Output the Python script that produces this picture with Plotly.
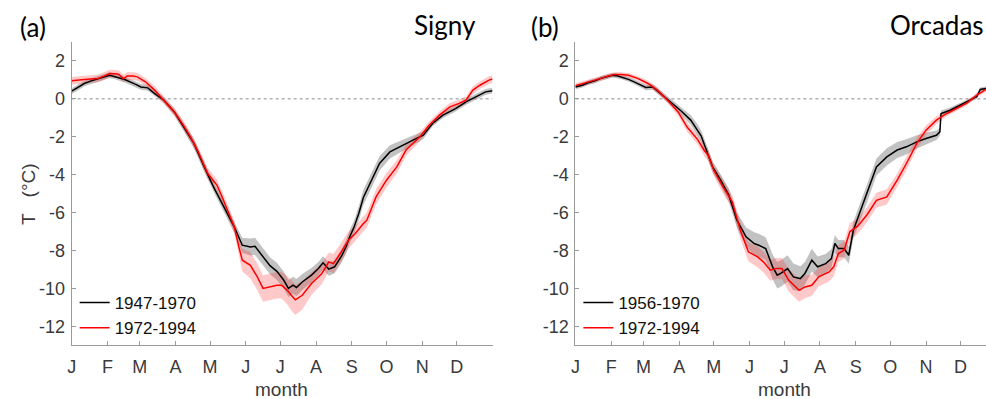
import plotly.graph_objects as go

# ---------------- data ----------------
month_ticks_days = [0, 31, 59, 90, 120, 151, 181, 212, 243, 273, 304, 334]
month_labels = ["J", "F", "M", "A", "M", "J", "J", "A", "S", "O", "N", "D"]
y_ticks = [2, 0, -2, -4, -6, -8, -10, -12]
y_tick_labels = ["2", "0", "-2", "-4", "-6", "-8", "-10", "-12"]

# Signy 1947-1970 (black)
signy_early_day = [0, 6, 11, 17, 23, 28, 33, 37, 40, 46, 51, 56, 60, 66, 72, 80, 89, 97, 106, 115,
                   123, 132, 141, 148, 155, 159, 165, 172, 178, 184, 188, 192, 195, 200, 208, 214,
                   218, 223, 228, 234, 238, 241, 245, 249, 253, 259, 267, 276, 287, 296, 305, 313,
                   322, 333, 342, 351, 359, 365]
signy_early_T = [0.41, 0.62, 0.81, 0.95, 1.04, 1.15, 1.25, 1.20, 1.13, 1.02, 0.90, 0.75, 0.63, 0.58,
                 0.28, -0.07, -0.69, -1.45, -2.35, -3.59, -4.64, -5.70, -6.75, -7.72, -7.81, -7.78,
                 -8.25, -8.80, -9.10, -9.57, -10.00, -9.83, -9.95, -9.66, -9.30, -8.95, -8.65, -8.98,
                 -8.86, -8.30, -7.80, -7.30, -6.75, -6.05, -5.20, -4.46, -3.41, -2.80, -2.44, -2.18,
                 -1.92, -1.30, -0.86, -0.51, -0.16, 0.11, 0.37, 0.43]
signy_early_sd = [0.15, 0.15, 0.15, 0.15, 0.15, 0.15, 0.15, 0.15, 0.15, 0.15, 0.15, 0.15, 0.15, 0.15,
                  0.15, 0.15, 0.18, 0.22, 0.25, 0.25, 0.25, 0.28, 0.3, 0.4, 0.45, 0.45, 0.45, 0.45,
                  0.45, 0.45, 0.45, 0.45, 0.45, 0.42, 0.38, 0.35, 0.35, 0.35, 0.35, 0.35, 0.35, 0.35,
                  0.35, 0.38, 0.4, 0.4, 0.38, 0.35, 0.3, 0.25, 0.2, 0.15, 0.15, 0.15, 0.15, 0.15,
                  0.15, 0.15]

# Signy 1972-1994 (red)
signy_late_day = [0, 6, 11, 17, 23, 28, 33, 38, 41, 44, 45, 48, 53, 57, 64, 72, 80, 89, 97, 103, 109,
                  118, 124, 126, 130, 135, 141, 145, 148, 155, 161, 166, 172, 178, 182, 187, 191, 194,
                  200, 208, 217, 223, 227, 233, 240, 246, 253, 256, 264, 273, 282, 290, 302, 310, 319,
                  328, 336, 342, 348, 354, 362, 365]
signy_late_T = [0.95, 1.00, 1.02, 1.05, 1.08, 1.20, 1.34, 1.32, 1.29, 1.12, 1.06, 1.20, 1.20, 1.16,
                0.90, 0.46, -0.07, -0.69, -1.40, -2.00, -2.70, -3.94, -4.40, -4.55, -5.10, -5.87,
                -6.75, -7.80, -8.51, -8.78, -9.39, -10.00, -9.92, -9.83, -9.83, -10.10, -10.40,
                -10.60, -10.36, -9.74, -9.21, -8.60, -8.69, -8.16, -7.46, -7.10, -6.58, -6.40,
                -5.17, -4.29, -3.59, -2.70, -2.00, -1.39, -0.86, -0.42, -0.24, -0.07, 0.46, 0.72,
                0.99, 1.05]
signy_late_sd = [0.2, 0.2, 0.2, 0.2, 0.2, 0.2, 0.2, 0.2, 0.2, 0.2, 0.2, 0.2, 0.2, 0.2, 0.2, 0.2, 0.2,
                 0.22, 0.25, 0.25, 0.25, 0.3, 0.3, 0.3, 0.3, 0.3, 0.35, 0.5, 0.6, 0.7, 0.7, 0.7, 0.7,
                 0.7, 0.7, 0.75, 0.8, 0.8, 0.75, 0.6, 0.55, 0.5, 0.5, 0.5, 0.45, 0.4, 0.4, 0.4, 0.4,
                 0.38, 0.35, 0.3, 0.25, 0.2, 0.2, 0.2, 0.2, 0.2, 0.2, 0.2, 0.2, 0.2]

# Orcadas 1956-1970 (black)
orc_early_day = [0, 6, 11, 17, 22, 27, 32, 36, 40, 46, 51, 56, 61, 67, 74, 83, 91, 100, 106, 109,
                 113, 119, 126, 133, 140, 148, 155, 159, 165, 171, 175, 178, 184, 189, 195, 199, 205,
                 210, 217, 222, 225, 228, 233, 237, 241, 247, 254, 261, 270, 279, 287, 296, 304, 313,
                 316, 317, 325, 333, 342, 348, 351, 356]
orc_early_T = [0.63, 0.72, 0.85, 0.95, 1.08, 1.15, 1.25, 1.22, 1.16, 1.03, 0.90, 0.75, 0.60, 0.63,
               0.28, -0.16, -0.60, -1.12, -1.65, -1.95, -2.60, -3.59, -4.29, -5.08, -6.40, -7.28,
               -7.63, -7.72, -7.90, -8.86, -9.30, -9.21, -8.95, -9.39, -9.48, -9.21, -8.51, -8.86,
               -8.69, -8.42, -7.63, -7.90, -7.90, -8.25, -6.93, -5.95, -4.82, -3.59, -3.06, -2.70,
               -2.53, -2.27, -2.09, -1.92, -1.74, -0.77, -0.60, -0.33, -0.07, 0.11, 0.50, 0.55]
orc_early_sd = [0.12, 0.12, 0.12, 0.12, 0.12, 0.12, 0.12, 0.12, 0.12, 0.12, 0.12, 0.12, 0.15, 0.15,
                0.15, 0.18, 0.2, 0.25, 0.3, 0.3, 0.3, 0.3, 0.3, 0.35, 0.4, 0.5, 0.6, 0.6, 0.6, 0.65,
                0.7, 0.7, 0.7, 0.7, 0.65, 0.6, 0.6, 0.55, 0.5, 0.5, 0.45, 0.45, 0.45, 0.45, 0.45,
                0.45, 0.45, 0.45, 0.45, 0.42, 0.4, 0.35, 0.3, 0.25, 0.2, 0.15, 0.15, 0.12, 0.12,
                0.1, 0.1, 0.1]

# Orcadas 1972-1994 (red)
orc_late_day = [0, 11, 22, 28, 34, 40, 46, 54, 63, 71, 80, 89, 97, 106, 112, 115, 120, 128, 136, 143,
                150, 158, 163, 169, 174, 179, 185, 194, 199, 205, 211, 220, 224, 228, 233, 238, 245,
                253, 261, 270, 279, 287, 296, 304, 313, 322, 330, 339, 348, 355, 356]
orc_late_T = [0.70, 0.87, 1.08, 1.20, 1.29, 1.28, 1.25, 1.08, 0.81, 0.46, -0.07, -0.69, -1.50, -2.15,
              -2.75, -2.95, -3.76, -4.64, -5.43, -6.93, -8.07, -8.34, -8.60, -9.04, -8.95, -8.95,
              -9.57, -10.10, -9.92, -9.83, -9.39, -9.13, -8.86, -8.16, -7.98, -7.00, -6.70, -6.10,
              -5.35, -5.17, -4.29, -3.41, -2.35, -1.65, -1.12, -0.77, -0.51, -0.24, 0.20, 0.46, 0.50]
orc_late_sd = [0.12, 0.12, 0.12, 0.12, 0.12, 0.12, 0.12, 0.12, 0.15, 0.15, 0.15, 0.2, 0.25, 0.25,
               0.3, 0.3, 0.3, 0.35, 0.35, 0.45, 0.5, 0.55, 0.55, 0.55, 0.55, 0.55, 0.6, 0.6, 0.6,
               0.55, 0.5, 0.5, 0.5, 0.45, 0.45, 0.45, 0.4, 0.4, 0.4, 0.4, 0.35, 0.35, 0.3, 0.25,
               0.2, 0.15, 0.15, 0.12, 0.12, 0.12, 0.12]

panels = [
    dict(name="Signy", tag="(a)",
         series=[("1947-1970", signy_early_day, signy_early_T, signy_early_sd),
                 ("1972-1994", signy_late_day, signy_late_T, signy_late_sd)],
         xmax=365),
    dict(name="Orcadas", tag="(b)",
         series=[("1956-1970", orc_early_day, orc_early_T, orc_early_sd),
                 ("1972-1994", orc_late_day, orc_late_T, orc_late_sd)],
         xmax=356),
]

# ---------------- layout constants ----------------
W, H = 986, 399
line_colors = ["#000000", "#ff0000"]
band_colors = ["rgba(110,110,110,0.42)", "rgba(255,40,40,0.25)"]
x_domains = [[67 / W, 490 / W], [573.3 / W, 1.0]]
y_domain = [(H - 345.3) / H, (H - 42) / H]
axis_col = "#9a9a9a"
sans = "'Liberation Sans', Arial, Helvetica, sans-serif"
tick_font = dict(family=sans, size=18, color="#3a3a3a")

fig = go.Figure()

for p_i, p in enumerate(panels):
    xa = "x" if p_i == 0 else "x2"
    ya = "y" if p_i == 0 else "y2"
    leg = "legend" if p_i == 0 else "legend2"
    for s_i, (lab, d, t, sd) in enumerate(p["series"]):
        up = [a + b for a, b in zip(t, sd)]
        lo = [a - b for a, b in zip(t, sd)]
        fig.add_trace(go.Scatter(x=d + d[::-1], y=up + lo[::-1], fill="toself",
                                 fillcolor=band_colors[s_i], line=dict(width=0),
                                 mode="lines", hoverinfo="skip", showlegend=False,
                                 xaxis=xa, yaxis=ya))
    fig.add_trace(go.Scatter(x=[0, p["xmax"]], y=[0, 0], mode="lines",
                             line=dict(color="#8c8c8c", width=1, dash="dot"),
                             showlegend=False, hoverinfo="skip", xaxis=xa, yaxis=ya))
    for s_i, (lab, d, t, sd) in enumerate(p["series"]):
        fig.add_trace(go.Scatter(x=d, y=t, mode="lines", name=lab,
                                 line=dict(color=line_colors[s_i], width=1.5),
                                 xaxis=xa, yaxis=ya, legend=leg))

axis_common = dict(showline=True, linecolor=axis_col, linewidth=1.2, ticks="inside",
                   ticklen=4, tickcolor=axis_col, tickwidth=1, showgrid=False, zeroline=False,
                   tickfont=tick_font, mirror=False)

leg_font = dict(family=sans, size=17, color="#111111")
fig.update_layout(
    width=W, height=H, margin=dict(l=0, r=0, t=0, b=0),
    paper_bgcolor="white", plot_bgcolor="white",
    xaxis=dict(domain=x_domains[0], range=[0, 365], anchor="y", tickvals=month_ticks_days,
               ticktext=month_labels, ticklabelstandoff=5, **axis_common),
    yaxis=dict(domain=y_domain, range=[-13, 3], anchor="x", tickvals=y_ticks,
               ticktext=y_tick_labels, ticklabelstandoff=2, **axis_common),
    xaxis2=dict(domain=x_domains[1], range=[0, 356], anchor="y2", tickvals=month_ticks_days,
                ticktext=month_labels, ticklabelstandoff=5, **axis_common),
    yaxis2=dict(domain=y_domain, range=[-13, 3], anchor="x2", tickvals=y_ticks,
                ticktext=y_tick_labels, ticklabelstandoff=2, **axis_common),
    legend=dict(x=70 / W, y=(H - 285) / H, xanchor="left", yanchor="top",
                bgcolor="rgba(0,0,0,0)", font=leg_font, tracegroupgap=0, itemwidth=30),
    legend2=dict(x=(70 + 506.3) / W, y=(H - 285) / H, xanchor="left", yanchor="top",
                 bgcolor="rgba(0,0,0,0)", font=leg_font, tracegroupgap=0, itemwidth=30),
    showlegend=True,
)

ann_font_big = dict(family="Lato, 'Open Sans', sans-serif", size=26, color="#000000")
annotations = [
    dict(text="(a)", x=13 / W, y=(H - 27) / H, xanchor="left", yanchor="middle"),
    dict(text="Signy", x=475 / W, y=(H - 25) / H, xanchor="right", yanchor="middle"),
    dict(text="(b)", x=527 / W, y=(H - 27) / H, xanchor="left", yanchor="middle"),
    dict(text="Orcadas", x=986 / W, y=(H - 25) / H, xanchor="right", yanchor="middle"),
]
for a in annotations:
    fig.add_annotation(xref="paper", yref="paper", showarrow=False, font=ann_font_big, **a)

lab_font = dict(family=sans, size=19, color="#3a3a3a")
fig.add_annotation(text="T\u00a0\u00a0\u00a0(°C)", xref="paper", yref="paper", x=23 / W,
                   y=(H - 194) / H, textangle=-90, showarrow=False, font=lab_font,
                   xanchor="center", yanchor="middle")
for cx in [278, 783]:
    fig.add_annotation(text="month", xref="paper", yref="paper", x=cx / W, y=(H - 389) / H,
                       showarrow=False, font=lab_font, xanchor="center", yanchor="middle")

fig.write_html("out.html")
